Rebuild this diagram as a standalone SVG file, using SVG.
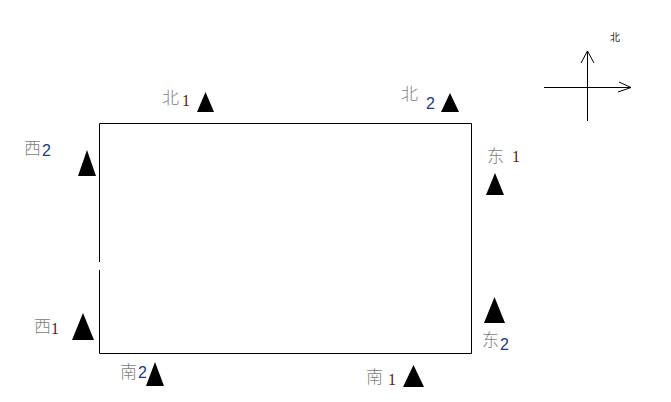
<svg xmlns="http://www.w3.org/2000/svg" width="671" height="402" viewBox="0 0 671 402">
<style>
.zh{font-family:"Noto Sans CJK SC","DejaVu Sans",sans-serif;font-size:17px;font-weight:300;fill:#808080}
.n1{font-family:"Liberation Serif",serif;font-size:16px;fill:#6a1010}
.n2{font-family:"Liberation Sans",sans-serif;font-size:16px;fill:#1a3a8a}
.tri{fill:#000}
.ln{stroke:#000;stroke-width:1;fill:none}
</style>
<rect width="671" height="402" fill="#fff"/>
<g id="connectors">
<path class="ln" d="M99.5 123.5H471.5V353.5H99.5V270M99.5 262V123.5"/>
</g>
<g id="compass">
<path class="ln" d="M587.5 51V121M544 87.5H631M581 63L587.5 51L594 63M619 82L631 87.5L618 92"/>
<text x="610" y="41" style="font-family:'Noto Sans CJK SC',sans-serif;font-size:10px;fill:#222">北</text>
</g>
<g id="n-bei1"><text class="zh" x="162" y="104">北</text><text class="n1" x="182" y="106">1</text><polygon class="tri" points="205.5,92 214,112 197,112"/></g>
<g id="n-bei2"><text class="zh" x="401" y="100">北</text><text class="n2" x="426" y="109">2</text><polygon class="tri" points="450,93 459,112 441,112"/></g>
<g id="n-xi2"><text class="zh" x="24" y="154">西</text><text class="n2" x="42" y="156">2</text><polygon class="tri" points="87,150 96,176 78,176"/></g>
<g id="n-dong1"><text class="zh" x="487" y="162">东</text><text class="n1" x="512" y="162">1</text><polygon class="tri" points="495,173 504,195 486,195"/></g>
<g id="n-xi1"><text class="zh" x="34" y="332">西</text><text class="n1" x="51" y="334">1</text><polygon class="tri" points="83,313 94,340 72,340"/></g>
<g id="n-dong2"><text class="zh" x="482" y="346">东</text><text class="n2" x="500" y="350">2</text><polygon class="tri" points="494.5,297 505,323 484,323"/></g>
<g id="n-nan2"><text class="zh" x="120" y="378">南</text><text class="n2" x="138" y="378">2</text><polygon class="tri" points="155,362 164,386 146,386"/></g>
<g id="n-nan1"><text class="zh" x="366" y="383">南</text><text class="n1" x="388" y="385">1</text><polygon class="tri" points="413.5,365 424,387 403,387"/></g>
</svg>
